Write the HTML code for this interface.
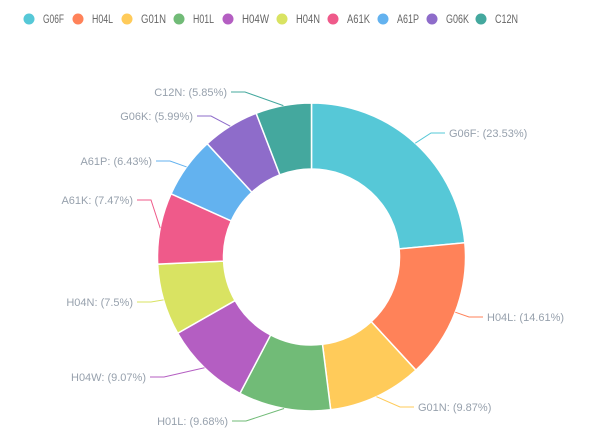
<!DOCTYPE html>
<html><head><meta charset="utf-8"><style>
body{margin:0;background:#fff;}
svg{display:block;font-family:"Liberation Sans",sans-serif;}
</style></head><body>
<svg id="s" width="600" height="436" viewBox="0 0 600 436"></svg>
<script>
const d=[["G06F",23.53,"#56c8d7",449,133,1,21],["H04L",14.61,"#ff8259",487,317,1,21],["G01N",9.87,"#ffcb5a",418,407,1,25],["H01L",9.68,"#71bb77",228,421,0,21],["H04W",9.07,"#b45ec2",146,377,0,27],["H04N",7.5,"#d9e362",133,302,0,24],["A61K",7.47,"#ef5a8a",133,200,0,23],["A61P",6.43,"#63b2ef",152,161,0,22],["G06K",5.99,"#8e6cca",193,116,0,23],["C12N",5.85,"#44a89e",227,92,0,23]];
const lx=[29,78,127,179,228,282,333,383,432,481];
const cx=311.5,cy=257,R=154,r=88;let h="";
const tot=d.reduce((a,b)=>a+b[1],0);let a=-Math.PI/2;
const P=(rad,t)=>[cx+rad*Math.cos(t),cy+rad*Math.sin(t)];
d.forEach((e,i)=>{
 const s=a,t=a+e[1]/tot*2*Math.PI;a=t;const big=t-s>Math.PI?1:0;
 const p1=P(R,s),p2=P(R,t),p3=P(r,t),p4=P(r,s);
 h+=`<path d="M${p1}A${R},${R} 0 ${big} 1 ${p2}L${p3}A${r},${r} 0 ${big} 0 ${p4}Z" fill="${e[2]}" stroke="#fff" stroke-width="1.5"/>`;
 const m=(s+t)/2,q0=P(R,m);
 const ex=e[5]?e[3]-4:e[3]+4, el=e[5]?ex-14:ex+14;
 h+=`<polyline points="${q0} ${el},${e[4]} ${ex},${e[4]}" fill="none" stroke="${e[2]}" stroke-width="1"/>`;
 h+=`<text x="${e[3]}" y="${e[4]+4}" font-size="11" fill="#97a1ad" text-anchor="${e[5]?'start':'end'}">${e[0]}: (${e[1]}%)</text>`;
 h+=`<circle cx="${lx[i]}" cy="19" r="5.5" fill="${e[2]}"/><text x="${lx[i]+14}" y="23" font-size="11.5" fill="#666" textLength="${e[6]}" lengthAdjust="spacingAndGlyphs">${e[0]}</text>`;
});
document.getElementById("s").innerHTML=h;
</script>
</body></html>
